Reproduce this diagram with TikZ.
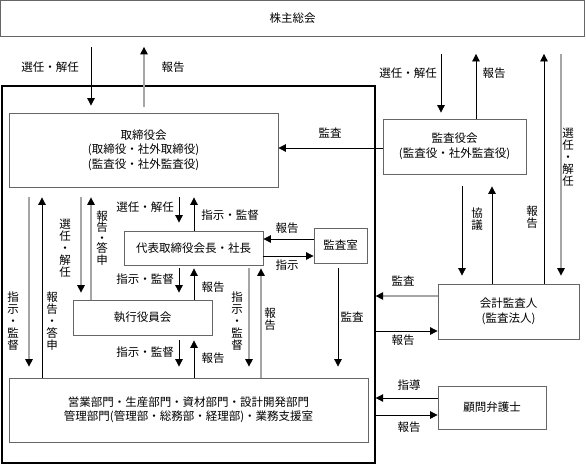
\documentclass[tikz,border=0pt]{standalone}
\usepackage{fontspec}
\setmainfont{Noto Sans CJK JP}
\usetikzlibrary{arrows.meta}
\begin{document}
\begin{tikzpicture}[x=1pt,y=-1pt,
 box/.style={draw=black!60, line width=0.8pt, rectangle, inner sep=0pt, align=center, font=\fontsize{11.5}{14.5}\selectfont},
 lbl/.style={font=\fontsize{11.5}{12}\selectfont, inner sep=0pt, align=center},
 arr/.style={draw=black, line width=0.8pt, -{Triangle[width=7.5pt,length=7.5pt,color=black]}},
 garr/.style={draw=black!35, line width=1.2pt, -{Triangle[width=7.5pt,length=7.5pt,color=black]}},
]
\useasboundingbox (0,0) rectangle (586,464);
% boxes
\node[box, minimum width=584pt, minimum height=36pt] (gm) at (292.5,18.5) {株主総会};
\node[draw=black, line width=1.3pt, minimum width=373pt, minimum height=377pt, inner sep=0pt] (frame) at (188.5,274.5) {};
\node[box, minimum width=269pt, minimum height=74pt] (bod) at (143.5,150) {取締役会\\(取締役・社外取締役)\\(監査役・社外監査役)};
\node[box, minimum width=143pt, minimum height=55pt] (kab) at (454.5,146.5) {監査役会\\(監査役・社外監査役)};
\node[box, minimum width=139pt, minimum height=34pt] (ceo) at (193.5,248) {代表取締役会長・社長};
\node[box, minimum width=53pt, minimum height=35pt] (audit) at (340.5,245.5) {監査室};
\node[box, minimum width=139pt, minimum height=35pt] (exec) at (142.5,317.5) {執行役員会};
\node[box, minimum width=141pt, minimum height=55pt] (acct) at (508.5,311.5) {会計監査人\\(監査法人)};
\node[box, minimum width=359pt, minimum height=64pt] (dept) at (188.5,410) {営業部門・生産部門・資材部門・設計開発部門\\管理部門(管理部・総務部・経理部)・業務支援室};
\node[box, minimum width=108pt, minimum height=43pt] (lawyer) at (492,407.5) {顧問弁護士};
% connectors top
\draw[arr, shorten <=10pt, shorten >=7pt] (91,0 |- gm.south) -- (91,0 |- bod.north);
\draw[garr, shorten <=6pt, shorten >=10pt] (144,0 |- bod.north) -- (144,0 |- gm.south);
\draw[arr, shorten <=17pt, shorten >=6pt] (441,0 |- gm.south) -- (441,0 |- kab.north);
\draw[arr, shorten >=17pt] (476,0 |- kab.north) -- (476,0 |- gm.south);
\draw[arr, shorten >=17pt] (544,0 |- acct.north) -- (544,0 |- gm.south);
\draw[garr, shorten <=17pt, shorten >=8pt] (561,0 |- gm.south) -- (561,0 |- acct.north);
\draw[arr, shorten <=12pt, shorten >=8pt] (462,0 |- kab.south) -- (462,0 |- acct.north);
\draw[arr, shorten >=12pt] (492,0 |- acct.north) -- (492,0 |- kab.south);
\draw[arr] (kab.west |- 0,148) -- (bod.east |- 0,148);
\draw[garr] (acct.west |- 0,296) -- (frame.east |- 0,296);
\draw[arr] (frame.east |- 0,331) -- (acct.west |- 0,331);
\draw[arr] (lawyer.west |- 0,398) -- (frame.east |- 0,398);
\draw[arr] (frame.east |- 0,415) -- (lawyer.west |- 0,415);
% connectors inside
\draw[garr, shorten <=10pt, shorten >=11pt] (29,0 |- bod.south) -- (29,0 |- dept.north);
\draw[arr, shorten >=10pt] (42,0 |- dept.north) -- (42,0 |- bod.south);
\draw[garr, shorten <=10pt, shorten >=7pt] (81,0 |- bod.south) -- (81,0 |- exec.north);
\draw[garr, shorten >=10pt] (91,0 |- exec.north) -- (91,0 |- bod.south);
\draw[arr, shorten <=10pt, shorten >=8pt] (179,0 |- bod.south) -- (179,0 |- ceo.north);
\draw[arr, shorten >=10pt] (194,0 |- ceo.north) -- (194,0 |- bod.south);
\draw[arr, shorten <=3pt, shorten >=7pt] (179,0 |- ceo.south) -- (179,0 |- exec.north);
\draw[arr, shorten >=3pt] (194,0 |- exec.north) -- (194,0 |- ceo.south);
\draw[arr, shorten <=5pt, shorten >=11pt] (179,0 |- exec.south) -- (179,0 |- dept.north);
\draw[arr, shorten >=5pt] (194,0 |- dept.north) -- (194,0 |- exec.south);
\draw[garr, shorten <=3pt, shorten >=11pt] (249,0 |- ceo.south) -- (249,0 |- dept.north);
\draw[garr, shorten >=3pt] (261,0 |- dept.north) -- (261,0 |- ceo.south);
\draw[arr] (audit.west |- 0,239) -- (ceo.east |- 0,239);
\draw[arr] (ceo.east |- 0,256) -- (audit.west |- 0,256);
\draw[arr, shorten <=5pt, shorten >=11pt] (338,0 |- audit.south) -- (338,0 |- dept.north);
% labels
\node[lbl] (l1) at (50,67) {選任・解任};
\node[lbl] (l2) at (173,67) {報告};
\node[lbl] (l3) at (408,73) {選任・解任};
\node[lbl] (l4) at (494,73) {報告};
\node[lbl] (l5) at (330,133) {監査};
\node[lbl] (l6) at (477,219) {協\\議};
\node[lbl] (l7) at (532,217) {報\\告};
\node[lbl] (l8) at (568,157) {選\\任\\・\\解\\任};
\node[lbl] (l9) at (145,207) {選任・解任};
\node[lbl] (l10) at (230,215) {指示・監督};
\node[lbl] (l11) at (65,248) {選\\任\\・\\解\\任};
\node[lbl, font=\fontsize{11.5}{10.5}\selectfont] (l12) at (102,238) {報\\告\\・\\答\\申};
\node[lbl] (l13) at (287,228) {報告};
\node[lbl] (l14) at (287,265) {指示};
\node[lbl] (l15) at (145,279) {指示・監督};
\node[lbl] (l16) at (213,287) {報告};
\node[lbl] (l17) at (13,321) {指\\示\\・\\監\\督};
\node[lbl] (l18) at (52,321) {報\\告\\・\\答\\申};
\node[lbl] (l19) at (237,321) {指\\示\\・\\監\\督};
\node[lbl] (l20) at (270,319) {報\\告};
\node[lbl] (l21) at (352,317) {監査};
\node[lbl] (l22) at (145,352) {指示・監督};
\node[lbl] (l23) at (213,358) {報告};
\node[lbl] (l24) at (403,281) {監査};
\node[lbl] (l25) at (403,340) {報告};
\node[lbl] (l26) at (409,385) {指導};
\node[lbl] (l27) at (409,427) {報告};
\end{tikzpicture}
\end{document}
